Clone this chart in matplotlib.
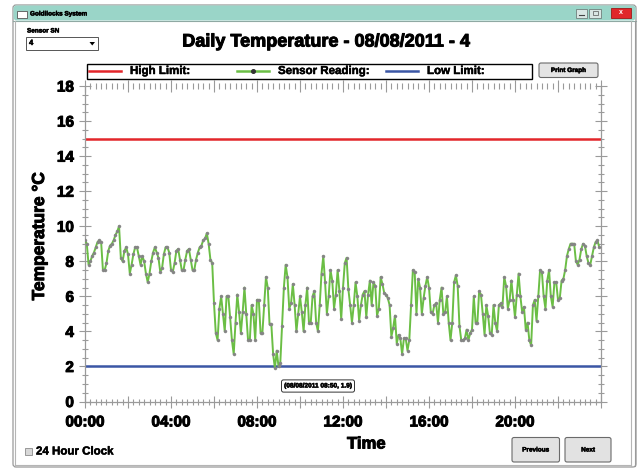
import numpy as np
import matplotlib
matplotlib.use("Agg")
import matplotlib.pyplot as plt
import matplotlib.patheffects as pe
from matplotlib.transforms import Affine2D
from matplotlib.patches import Rectangle, FancyBboxPatch
from matplotlib.lines import Line2D
from matplotlib.ticker import MultipleLocator, FuncFormatter

# ---------------- data ----------------
window_title = "Goldilocks System"
chart_title = "Daily Temperature - 08/08/2011 - 4"
sensor_sn = "4"
high_limit = 15.0
low_limit = 2.0
sample_minutes = 5   # one reading every 5 minutes starting 00:00

temps = [
    # 00:00 - 04:10
    9.2, 9.0, 7.8, 8.0, 8.3, 8.5, 8.8, 9.1, 9.2, 9.1, 7.5, 7.5, 7.9, 8.6, 8.9, 9.0,
    9.2, 9.5, 9.7, 10.0, 8.2, 8.0, 8.6, 8.8, 8.4, 7.3, 7.8, 8.4, 8.8, 8.8, 8.3, 7.8,
    8.3, 8.0, 7.3, 6.8, 7.3, 8.0, 8.5, 8.8, 8.5, 8.2, 7.4, 7.6, 8.4, 8.8, 8.8, 8.5,
    7.5, 7.4, 7.9,
    # 04:15 - 08:10
    8.6, 8.7, 8.1, 7.5, 7.5, 8.1, 8.6, 8.7, 8.1, 7.5, 7.5, 8.1, 8.5, 8.8, 8.9, 9.2,
    9.3, 9.6, 9.0, 8.1, 7.9, 5.6, 3.9, 3.5, 5.3, 6.0, 5.0, 4.0, 6.0, 6.0, 4.8, 3.5,
    2.7, 4.5, 6.1, 5.1, 3.9, 5.1, 6.5, 5.0, 3.5, 3.5, 5.5, 5.0, 3.5, 5.8, 5.8, 3.9,
    # 08:15 - 12:10
    3.9, 5.5, 7.1, 6.5, 4.4, 4.4, 2.7, 1.9, 2.9, 2.0, 2.2, 4.3, 6.5, 7.8, 7.1, 5.3,
    5.6, 6.7, 5.5, 4.0, 5.0, 6.0, 5.1, 4.0, 5.5, 6.5, 4.5, 4.5, 6.0, 6.3, 4.5, 4.0,
    5.5, 7.3, 8.3, 6.8, 5.0, 6.0, 7.5, 6.9, 5.3, 6.1, 7.5, 6.3, 4.7, 6.5, 7.9, 8.2,
    # 12:15 - 16:10
    6.4, 5.5, 4.5, 5.5, 6.8, 6.0, 4.6, 5.5, 6.1, 6.3, 4.8, 6.1, 6.9, 5.5, 6.8, 6.6,
    4.9, 5.3, 7.1, 6.7, 6.2, 6.1, 5.9, 5.5, 3.7, 4.2, 4.9, 3.3, 3.8, 3.6, 2.7, 3.6,
    3.6, 2.9, 3.5, 5.5, 7.5, 7.4, 5.0, 7.0, 6.5, 5.0, 5.9, 6.6, 7.1, 6.5, 5.1, 5.0,
    # 16:15 - 20:10
    5.5, 5.6, 4.5, 5.8, 6.5, 5.0, 5.1, 6.0, 4.5, 3.5, 4.5, 6.8, 7.2, 6.6, 4.3, 3.5,
    3.5, 3.6, 4.1, 3.5, 3.9, 4.1, 6.0, 4.5, 4.5, 6.3, 6.1, 5.0, 3.8, 5.5, 4.9, 3.9,
    3.8, 5.5, 4.5, 4.0, 5.5, 5.6, 5.4, 7.1, 6.6, 5.3, 5.8, 6.9, 5.8, 4.8, 6.1, 7.3,
    # 20:15 - 23:55
    6.0, 5.1, 5.4, 4.1, 4.5, 3.5, 3.2, 5.5, 5.8, 4.6, 6.0, 7.5, 7.4, 6.0, 5.3, 6.9,
    7.5, 6.0, 5.4, 6.8, 6.8, 5.8, 5.9, 6.9, 7.0, 7.5, 8.3, 8.7, 9.0, 9.0, 9.0, 8.0,
    7.8, 8.1, 8.7, 9.0, 8.9, 8.3, 7.9, 7.8, 8.3, 8.8, 9.1, 9.2, 8.8,
]

x_tick_labels = ["00:00", "04:00", "08:00", "12:00", "16:00", "20:00"]
legend_labels = ["High Limit:", "Sensor Reading:", "Low Limit:"]
tooltip_text = "(08/08/2011 08:50, 1.9)"
y_label = "Temperature °C"
x_label = "Time"

# ---------------- style ----------------
RED = "#E3262B"
GREEN = "#6BBE45"
BLUE = "#3B56A5"
MARK = "#858585"
AXC = "#9A9A9A"
TEAL = "#9AD5C8"
FONT = ["Liberation Sans", "DejaVu Sans"]
HEAVY = [pe.withStroke(linewidth=0.7, foreground="black")]
HEAVY_S = [pe.withStroke(linewidth=0.35, foreground="black")]

W, H = 642, 470
fig = plt.figure(figsize=(W / 100, H / 100), dpi=100)
fig.patch.set_facecolor("white")
plt.rcParams["font.family"] = FONT

# pixel (from top-left) -> figure transform
PX = Affine2D().scale(1 / W, -1 / H).translate(0, 1) + fig.transFigure


def rect(x0, y0, x1, y1, fc="none", ec="none", lw=1.0, z=0, rounded=0.0):
    if rounded > 0:
        p = FancyBboxPatch((x0, y0), x1 - x0, y1 - y0,
                           boxstyle=f"round,pad=0,rounding_size={rounded}",
                           transform=PX, fc=fc, ec=ec, lw=lw, zorder=z)
    else:
        p = Rectangle((x0, y0), x1 - x0, y1 - y0, transform=PX,
                      fc=fc, ec=ec, lw=lw, zorder=z)
    fig.add_artist(p)
    return p


def hline(x0, x1, y, color, lw=1.0, z=1, **kw):
    fig.add_artist(Line2D([x0, x1], [y, y], transform=PX, color=color, lw=lw, zorder=z, **kw))


def vline(x, y0, y1, color, lw=1.0, z=1):
    fig.add_artist(Line2D([x, x], [y0, y1], transform=PX, color=color, lw=lw, zorder=z))


def ftext(x, y, s, size, ha="left", va="center", weight="bold", effects=None, **kw):
    t = fig.text(x / W, 1 - y / H, s, fontsize=size, ha=ha, va=va,
                 fontweight=weight, family=FONT, **kw)
    if effects:
        t.set_path_effects(effects)
    return t


# ---------------- window chrome ----------------
rect(13, 5, 636, 467, fc="white", ec="#9A9A9A", lw=0.9, z=0, rounded=3)
rect(13.5, 5.5, 635.5, 20.5, fc=TEAL, ec="none", z=0.5, rounded=3)
hline(13, 636, 21, "#8FA9A3", lw=0.8)
vline(15, 21, 466, "#B5B5B5", lw=0.8)
vline(631, 21, 466, "#B5B5B5", lw=0.8)
vline(634.5, 21, 466, "#9A9A9A", lw=0.8)
hline(15, 631, 465, "#B5B5B5", lw=0.8)
rect(17, 10.5, 27, 17.5, fc="white", ec="#555555", lw=0.6, z=1)
ftext(30, 14, window_title, 4.6, effects=HEAVY_S)
# title bar buttons
rect(576, 8.5, 587, 17.5, fc="#D9E6E3", ec="#6F7F7C", lw=0.6, z=1)
hline(579, 584, 14.5, "#444444", lw=0.8, z=2)
rect(589, 8.5, 601, 17.5, fc="#D9E6E3", ec="#6F7F7C", lw=0.6, z=1)
rect(592.5, 11, 597.5, 15, fc="none", ec="#555555", lw=0.5, z=2)
rect(611, 8, 631, 18, fc="#E0282B", ec="#A01818", lw=0.6, z=1)
ftext(621, 13, "x", 5, ha="center", color="white")

# sensor selector
ftext(27, 31, "Sensor SN", 4.6, effects=HEAVY_S)
rect(26, 37, 98, 49.5, fc="white", ec="#555555", lw=0.7, z=1)
ftext(29, 43.5, sensor_sn, 5.5, effects=HEAVY_S)
fig.add_artist(plt.Polygon([[89.5, 42], [95, 42], [92.25, 45.5]], closed=True,
                           transform=PX, fc="black", ec="none", zorder=2))

# title
ftext(326, 42, chart_title, 13, ha="center", effects=HEAVY)

# legend box (three evenly spaced columns)
rect(86.5, 63.5, 531.5, 78.5, fc="white", ec="black", lw=1.0, z=1)
leg_colors = [RED, GREEN, BLUE]
leg_x = [89, 237, 386]
for i, (lab, col) in enumerate(zip(legend_labels, leg_colors)):
    x0 = leg_x[i]
    hline(x0, x0 + 32, 71, col, lw=1.8, z=2)
    if i == 1:
        fig.add_artist(Line2D([x0 + 16], [71], transform=PX, marker="o", ms=2.6,
                              mfc="#333333", mec="#333333", lw=0, zorder=3))
    ftext(x0 + 41, 71, lab, 8.3, effects=HEAVY_S)

# print button
rect(539, 63, 598, 77.5, fc="#E4E4E4", ec="#6A6A6A", lw=0.8, z=1, rounded=2)
ftext(568.5, 70.5, "Print Graph", 4.6, ha="center", effects=HEAVY_S)

# ---------------- axes ----------------
ax_l, ax_r, ax_t, ax_b = 85, 601, 86, 401.5
ax = fig.add_axes([ax_l / W, 1 - ax_b / H, (ax_r - ax_l) / W, (ax_b - ax_t) / H])
ax.set_facecolor("none")

hours = np.arange(len(temps)) * sample_minutes / 60.0
ax.axhline(high_limit, color=RED, lw=1.8, zorder=2)
ax.axhline(low_limit, color=BLUE, lw=1.8, zorder=2)
ax.plot(hours, temps, color=GREEN, lw=1.4, marker="o", ms=2.2,
        mfc=MARK, mec=MARK, mew=0.3, zorder=3)

ax.set_xlim(0, 24)
ax.set_ylim(0, 18)
ax.xaxis.set_major_locator(MultipleLocator(2))
ax.xaxis.set_minor_locator(MultipleLocator(0.25))
ax.yaxis.set_major_locator(MultipleLocator(2))
ax.yaxis.set_minor_locator(MultipleLocator(0.5))


def xfmt(v, pos):
    h = int(round(v))
    if h % 4 == 0 and h < 24:
        return x_tick_labels[h // 4]
    return ""


ax.xaxis.set_major_formatter(FuncFormatter(xfmt))
ax.yaxis.set_major_formatter(FuncFormatter(lambda v, p: f"{int(v)}"))

for s in ["left", "right", "bottom"]:
    ax.spines[s].set_color(AXC)
    ax.spines[s].set_linewidth(0.9)
ax.spines["top"].set_visible(False)

ax.tick_params(which="both", direction="inout", color=AXC, width=0.8,
               top=True, right=True, labelsize=11, labelcolor="black")
ax.tick_params(which="major", length=8)
ax.tick_params(which="minor", length=4.5)
ax.tick_params(axis="y", pad=4)
ax.tick_params(axis="x", pad=6)
for lbl in ax.get_xticklabels() + ax.get_yticklabels():
    lbl.set_fontweight("bold")
    lbl.set_path_effects(HEAVY)

ax.set_ylabel(y_label, fontsize=12.5, fontweight="bold")
ax.yaxis.label.set_path_effects(HEAVY)
ax.yaxis.set_label_coords((47 - ax_l) / (ax_r - ax_l), (ax_b - 236) / (ax_b - ax_t))
ftext(347, 444, x_label, 12, effects=HEAVY)

# tooltip
tt = fig.text(318 / W, 1 - 386 / H, tooltip_text, fontsize=4.7, fontweight="bold",
              ha="center", va="center", family=FONT,
              bbox=dict(boxstyle="round,pad=0.4,rounding_size=0.3", fc="white",
                        ec="#333333", lw=0.7))
tt.set_path_effects(HEAVY_S)

# bottom controls
rect(25, 448, 31.5, 454.5, fc="#D8D8D8", ec="#777777", lw=0.5, z=1)
ftext(36, 451.5, "24 Hour Clock", 8.3, effects=HEAVY_S)
rect(512, 437.5, 559.5, 462, fc="#E2E2E2", ec="#6A6A6A", lw=0.8, z=1, rounded=2)
ftext(535.7, 450, "Previous", 4.6, ha="center", effects=HEAVY_S)
rect(565, 437.5, 611, 462, fc="#E2E2E2", ec="#6A6A6A", lw=0.8, z=1, rounded=2)
ftext(588, 450, "Next", 4.6, ha="center", effects=HEAVY_S)

fig.savefig("out.png", dpi=100)
